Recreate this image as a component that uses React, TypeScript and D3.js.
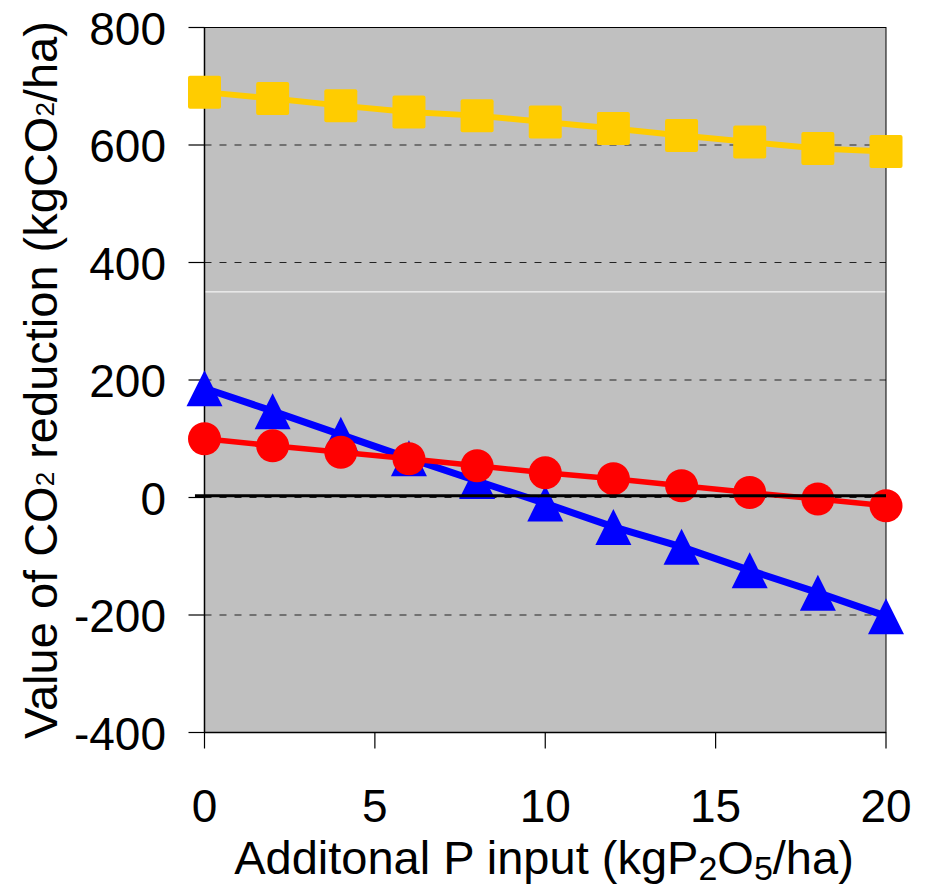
import React from "react";
import * as d3 from "d3";

const xValues = [0, 2, 4, 6, 8, 10, 12, 14, 16, 18, 20];
const yellowSeries = [690, 679, 667, 656, 650, 639, 628, 616, 605, 594, 589];
const blueSeries = [186, 147, 107, 67, 28, -10, -50, -84, -124, -162, -202];
const redSeries = [100, 88, 77, 66, 54, 42, 32, 20, 8.5, -2.5, -14];
const zeroLineX = [-0.28, 20];
const zeroLineY = [3, 3];
const whiteLineValue = 350;
const xTicks = [0, 5, 10, 15, 20];
const yTicks = [800, 600, 400, 200, 0, -200, -400];
const dashedGrid = [600, 400, 200, 0, -200];

const W = 929;
const H = 887;
const left = 204.5;
const right = 886;
const top = 27.5;
const bottom = 732.5;
const FONT = "'Liberation Sans', Arial, sans-serif";

export default function App() {
  const x = d3.scaleLinear().domain([0, 20]).range([left, right]);
  const y = d3.scaleLinear().domain([-400, 800]).range([bottom, top]);
  const line = d3
    .line<[number, number]>()
    .x((d) => x(d[0]))
    .y((d) => y(d[1]));
  const pts = (s: number[]) => xValues.map((v, i) => [v, s[i]] as [number, number]);
  const tri = (cx: number, cy: number) => {
    const h = 36, w = 36;
    return `M${cx},${cy - h / 2}L${cx + w / 2},${cy + h / 2}L${cx - w / 2},${cy + h / 2}Z`;
  };

  return (
    <svg
      width={W}
      height={H}
      style={{ position: "absolute", left: 0, top: 0, display: "block" }}
      fontFamily={FONT}
    >
      <rect x={0} y={0} width={W} height={H} fill="#ffffff" />
      <rect x={left} y={top} width={right - left} height={bottom - top} fill="#C0C0C0" />
      {dashedGrid.map((v) => (
        <line key={v} x1={left} x2={right} y1={y(v)} y2={y(v)} stroke="#222" strokeWidth={1} strokeDasharray="7,8" />
      ))}
      <line x1={left} x2={right} y1={y(whiteLineValue)} y2={y(whiteLineValue)} stroke="#ffffff" strokeWidth={1} />
      <rect x={left} y={top} width={right - left} height={bottom - top} fill="none" stroke="#000" strokeWidth={1} />
      <line x1={left} x2={left} y1={top} y2={bottom} stroke="#000" strokeWidth={1.5} />
      <line x1={left} x2={right} y1={bottom} y2={bottom} stroke="#000" strokeWidth={1.5} />
      {yTicks.map((v) => (
        <g key={v}>
          <line x1={left - 16} x2={left} y1={y(v)} y2={y(v)} stroke="#000" strokeWidth={1.2} />
          <text x={166} y={y(v)} dy="0.37em" textAnchor="end" fontSize={46} fill="#000">
            {v}
          </text>
        </g>
      ))}
      {xTicks.map((v) => (
        <g key={v}>
          <line x1={x(v)} x2={x(v)} y1={bottom} y2={bottom + 16} stroke="#000" strokeWidth={1.2} />
          <text x={x(v)} y={822} textAnchor="middle" fontSize={46} fill="#000">
            {v}
          </text>
        </g>
      ))}

      {/* yellow series */}
      <path d={line(pts(yellowSeries)) || ""} fill="none" stroke="#FFCC00" strokeWidth={6} />
      {pts(yellowSeries).map((p, i) => (
        <rect key={i} x={x(p[0]) - 16.5} y={y(p[1]) - 16.5} width={33} height={33} rx={2} fill="#FFCC00" />
      ))}

      {/* blue series */}
      <path d={line(pts(blueSeries)) || ""} fill="none" stroke="#0000FF" strokeWidth={7} />
      {pts(blueSeries).map((p, i) => (
        <path key={i} d={tri(x(p[0]), y(p[1]))} fill="#0000FF" />
      ))}

      {/* red series */}
      <path d={line(pts(redSeries)) || ""} fill="none" stroke="#FF0000" strokeWidth={5.5} />
      {pts(redSeries).map((p, i) => (
        <circle key={i} cx={x(p[0])} cy={y(p[1])} r={16.5} fill="#FF0000" />
      ))}

      {/* zero reference line */}
      <line
        x1={x(zeroLineX[0])}
        x2={x(zeroLineX[1])}
        y1={y(zeroLineY[0])}
        y2={y(zeroLineY[1])}
        stroke="#000"
        strokeWidth={3}
      />

      <text x={544} y={874} textAnchor="middle" fontSize={47} fill="#000">
        Additonal P input (kgP
        <tspan fontSize={34} dy={6}>2</tspan>
        <tspan dy={-6}>O</tspan>
        <tspan fontSize={34} dy={6}>5</tspan>
        <tspan dy={-6}>/ha)</tspan>
      </text>

      <text transform="translate(57,380) rotate(-90)" textAnchor="middle" fontSize={47} fill="#000">
        Value of CO
        <tspan fontSize={26} dy={-3}>2</tspan>
        <tspan dy={3}> reduction (kgCO</tspan>
        <tspan fontSize={26} dy={-3}>2</tspan>
        <tspan dy={3}>/ha)</tspan>
      </text>
    </svg>
  );
}
